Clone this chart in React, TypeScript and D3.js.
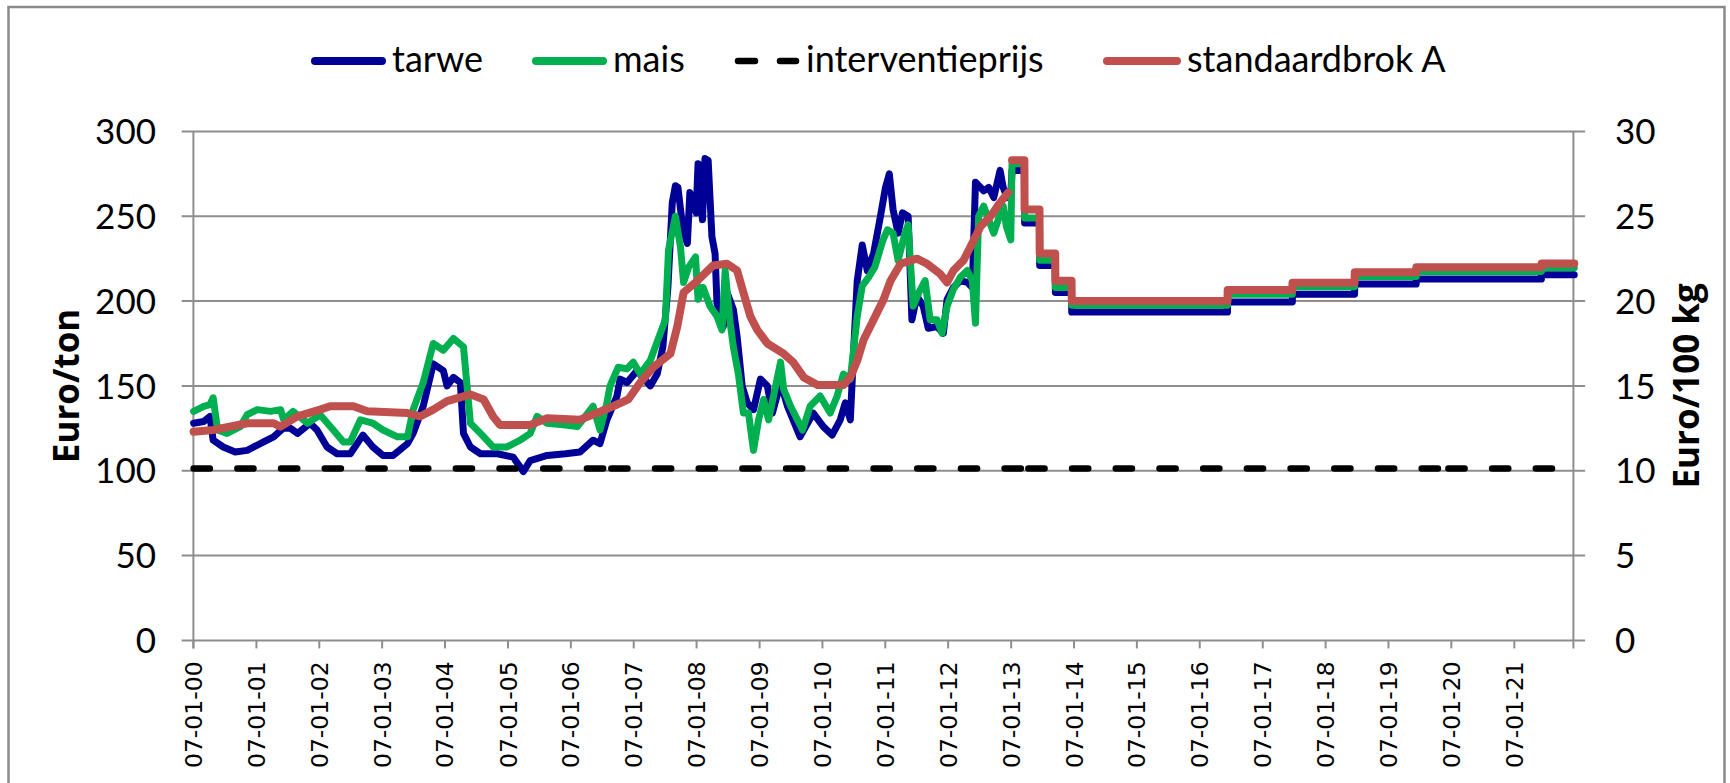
import { useEffect, useRef } from 'react';
import * as d3 from 'd3';

// [decimal year, euro/ton]
const tarwe: [number, number][] = [
  [2000.02, 128], [2000.18, 129], [2000.28, 132], [2000.33, 118], [2000.49, 114], [2000.68, 111],
  [2000.87, 112], [2001.13, 117], [2001.29, 120], [2001.44, 125], [2001.56, 125], [2001.67, 122],
  [2001.87, 128], [2001.98, 124], [2002.14, 114], [2002.3, 110], [2002.51, 110], [2002.71, 121],
  [2002.87, 114], [2003.03, 109], [2003.19, 109], [2003.42, 116], [2003.51, 122], [2003.67, 138],
  [2003.83, 163], [2003.99, 159], [2004.05, 150], [2004.15, 155], [2004.26, 152], [2004.31, 122],
  [2004.42, 114], [2004.58, 110], [2004.85, 110], [2005.1, 108], [2005.26, 99.5], [2005.37, 106],
  [2005.64, 109], [2005.93, 110], [2006.16, 111], [2006.37, 118], [2006.48, 116], [2006.59, 130],
  [2006.75, 144], [2006.8, 154], [2006.91, 152], [2007.07, 159], [2007.28, 150], [2007.39, 157],
  [2007.48, 173], [2007.56, 208], [2007.63, 258], [2007.68, 268], [2007.72, 267], [2007.8, 242],
  [2007.87, 234], [2007.91, 264], [2008.01, 252], [2008.04, 281], [2008.11, 248], [2008.15, 284],
  [2008.2, 283], [2008.26, 238], [2008.31, 228], [2008.34, 199], [2008.44, 185], [2008.5, 205],
  [2008.6, 195], [2008.66, 179], [2008.74, 150], [2008.82, 140], [2008.92, 136], [2009.03, 154],
  [2009.14, 150], [2009.22, 134], [2009.35, 152], [2009.46, 138], [2009.55, 130], [2009.66, 120],
  [2009.87, 134], [2010.03, 126], [2010.17, 121], [2010.3, 130], [2010.38, 140], [2010.46, 130],
  [2010.51, 169], [2010.57, 212], [2010.65, 233], [2010.73, 218], [2010.83, 228], [2010.94, 250],
  [2011.02, 267], [2011.08, 275], [2011.14, 254], [2011.22, 240], [2011.29, 252], [2011.38, 250],
  [2011.44, 189], [2011.52, 203], [2011.62, 197], [2011.7, 184], [2011.84, 185], [2011.94, 181],
  [2012.0, 201], [2012.1, 208], [2012.21, 212], [2012.32, 211], [2012.4, 208], [2012.45, 270],
  [2012.58, 265], [2012.66, 267], [2012.74, 261], [2012.84, 277], [2012.89, 267], [2012.95, 261],
  [2013.01, 262],
];

const mais: [number, number][] = [
  [2000.02, 135], [2000.18, 138], [2000.28, 139], [2000.33, 143], [2000.4, 124], [2000.55, 122],
  [2000.76, 126], [2000.87, 133], [2001.03, 136], [2001.24, 135], [2001.4, 136], [2001.45, 130],
  [2001.6, 135], [2001.83, 128], [2002.03, 133], [2002.24, 124], [2002.4, 117], [2002.51, 117],
  [2002.67, 130], [2002.87, 128], [2003.03, 124], [2003.26, 120], [2003.42, 120], [2003.51, 136],
  [2003.67, 152], [2003.83, 175], [2003.99, 171], [2004.15, 178], [2004.31, 173], [2004.42, 128],
  [2004.58, 122], [2004.78, 114], [2005.0, 114], [2005.21, 118], [2005.37, 122], [2005.48, 132],
  [2005.64, 128], [2005.93, 127], [2006.12, 126], [2006.37, 138], [2006.48, 124], [2006.59, 140],
  [2006.64, 150], [2006.77, 161], [2006.91, 160], [2007.01, 164], [2007.12, 157], [2007.28, 165],
  [2007.44, 181], [2007.52, 189], [2007.57, 230], [2007.68, 250], [2007.76, 232], [2007.81, 211],
  [2007.89, 220], [2008.0, 226], [2008.04, 201], [2008.12, 208], [2008.23, 197], [2008.34, 191],
  [2008.42, 183], [2008.47, 218], [2008.55, 187], [2008.6, 173], [2008.68, 157], [2008.76, 134],
  [2008.84, 134], [2008.92, 112], [2009.0, 130], [2009.08, 142], [2009.16, 130], [2009.35, 164],
  [2009.4, 148], [2009.51, 138], [2009.62, 130], [2009.7, 124], [2009.82, 138], [2009.98, 144],
  [2010.14, 134], [2010.25, 144], [2010.35, 157], [2010.46, 154], [2010.57, 191], [2010.65, 209],
  [2010.75, 214], [2010.85, 220], [2010.98, 236], [2011.05, 242], [2011.14, 240], [2011.22, 224],
  [2011.33, 240], [2011.38, 245], [2011.46, 197], [2011.55, 205], [2011.65, 212], [2011.73, 189],
  [2011.84, 189], [2011.92, 181], [2012.0, 197], [2012.1, 207], [2012.21, 214], [2012.32, 218],
  [2012.4, 212], [2012.45, 187], [2012.5, 250], [2012.58, 256], [2012.66, 248], [2012.74, 240],
  [2012.83, 250], [2012.89, 256], [2012.94, 244], [2013.01, 236],
];

// euro/100 kg
const standaardbrok: [number, number][] = [
  [2000.02, 12.3], [2000.33, 12.4], [2000.87, 12.8], [2001.29, 12.8], [2001.4, 12.6], [2001.67, 13.2],
  [2002.03, 13.6], [2002.19, 13.8], [2002.56, 13.8], [2002.78, 13.5], [2003.42, 13.4], [2003.62, 13.2],
  [2003.83, 13.6], [2004.05, 14.1], [2004.42, 14.5], [2004.63, 14.2], [2004.78, 13.2], [2004.89, 12.7],
  [2005.37, 12.7], [2005.64, 13.1], [2006.16, 13.0], [2006.43, 13.4], [2006.69, 13.8], [2006.93, 14.2],
  [2007.12, 15.2], [2007.33, 16.1], [2007.6, 16.9], [2007.71, 18.5], [2007.81, 20.5], [2008.03, 21.2],
  [2008.28, 22.1], [2008.5, 22.2], [2008.66, 21.8], [2008.76, 20.5], [2008.87, 19.1], [2008.98, 18.3],
  [2009.14, 17.5], [2009.4, 16.9], [2009.55, 16.4], [2009.72, 15.5], [2009.94, 15.05], [2010.35, 15.05],
  [2010.46, 15.5], [2010.57, 16.5], [2010.67, 17.7], [2010.83, 18.9], [2010.99, 20.1], [2011.1, 21.2],
  [2011.26, 22.2], [2011.52, 22.5], [2011.68, 22.2], [2011.89, 21.6], [2012.0, 21.1], [2012.1, 21.8],
  [2012.26, 22.4], [2012.37, 23.2], [2012.53, 24.4], [2012.69, 25.0], [2012.84, 25.8], [2012.97, 26.4],
];

// stepped levels from 2013 on
const stepYears = [2013.03, 2013.23, 2013.47, 2013.72, 2013.98, 2016.46, 2017.49, 2018.48, 2019.46, 2021.45];
const stepTarwe = [277, 246, 221, 205, 193.5, 199.5, 204, 210, 213, 215.5];
const stepMais = [281, 249, 224, 208, 197.5, 204, 208.5, 214.5, 217.5, 219.7];
const stepBrok = [28.3, 25.4, 22.8, 21.2, 20.0, 20.65, 21.08, 21.7, 22.0, 22.22];
const lastYear = 2021.97;

const interventieprijs = 101.31;
const interventieBreaks = [2000.02, 2006.66, 2013.29, 2019.97, 2021.7];

const tickYears = d3.range(2000, 2022);
const leftTicks = [0, 50, 100, 150, 200, 250, 300];
const rightTicks = [0, 5, 10, 15, 20, 25, 30];

const legendItems = [
  { label: 'tarwe', color: '#000096', dash: false },
  { label: 'mais', color: '#00b050', dash: false },
  { label: 'interventieprijs', color: '#000000', dash: true },
  { label: 'standaardbrok A', color: '#c0504d', dash: false },
];

const toDate = (y: number) => {
  const yr = Math.floor(y);
  const a = new Date(yr, 0, 1).getTime();
  const b = new Date(yr + 1, 0, 1).getTime();
  return new Date(a + (y - yr) * (b - a));
};

const stepPoints = (vals: number[]): [number, number][] =>
  stepYears.flatMap((y, i) => {
    const next = i < stepYears.length - 1 ? stepYears[i + 1] - 0.003 : lastYear;
    return [
      [y, vals[i]],
      [next, vals[i]],
    ] as [number, number][];
  });

const GRID = '#8e8e8e';
const FONT = 'Lato, "Open Sans", sans-serif';
const TITLE_FONT = '"Open Sans", Lato, sans-serif';

export default function App() {
  const svgRef = useRef<SVGSVGElement>(null);

  useEffect(() => {
    if (!svgRef.current) return;
    const width = 1730;
    const height = 783;
    const svg = d3.select(svgRef.current).attr('width', width).attr('height', height);
    svg.selectAll('*').remove();

    const left = 193.4;
    const right = 1573.4;
    const top = 131.4;
    const bottom = 640.4;

    const x = d3
      .scaleTime()
      .domain([new Date(2000, 0, 7), new Date(2021, 11, 16)])
      .range([left, right]);
    const yL = d3.scaleLinear().domain([0, 300]).range([bottom, top]);
    const yR = d3.scaleLinear().domain([0, 30]).range([bottom, top]);

    svg.append('rect').attr('width', width).attr('height', height).attr('fill', '#fff');
    svg
      .append('rect')
      .attr('x', 8.5)
      .attr('y', 7)
      .attr('width', 1716)
      .attr('height', 800)
      .attr('fill', 'none')
      .attr('stroke', '#8a8a8a')
      .attr('stroke-width', 2.5);

    // gridlines + outward ticks on both sides
    const tickLen = 11.7;
    svg
      .append('g')
      .selectAll('line')
      .data(leftTicks)
      .join('line')
      .attr('x1', left - tickLen)
      .attr('x2', right + tickLen)
      .attr('y1', (d) => yL(d))
      .attr('y2', (d) => yL(d))
      .attr('stroke', GRID)
      .attr('stroke-width', 2);

    // vertical axes
    [left, right].forEach((ax) => {
      svg
        .append('line')
        .attr('x1', ax)
        .attr('x2', ax)
        .attr('y1', top)
        .attr('y2', bottom + 8)
        .attr('stroke', GRID)
        .attr('stroke-width', 2);
    });

    // x ticks
    const tickDates = tickYears.map((y) => new Date(y, 0, 7));
    svg
      .append('g')
      .selectAll('line')
      .data(tickDates)
      .join('line')
      .attr('x1', (d) => x(d))
      .attr('x2', (d) => x(d))
      .attr('y1', bottom)
      .attr('y2', bottom + 8)
      .attr('stroke', GRID)
      .attr('stroke-width', 2);

    const fmt = d3.timeFormat('%d-%m-%y');
    svg
      .append('g')
      .selectAll('text')
      .data(tickDates)
      .join('text')
      .attr('transform', (d) => `translate(${x(d) + 8.5},${bottom + 21}) rotate(-90)`)
      .attr('text-anchor', 'end')
      .attr('font-family', '"DejaVu Sans", sans-serif')
      .attr('font-size', 23.5)
      .attr('fill', '#000')
      .text((d) => fmt(d));

    // y tick labels
    svg
      .append('g')
      .selectAll('text')
      .data(leftTicks)
      .join('text')
      .attr('x', 156)
      .attr('y', (d) => yL(d))
      .attr('dy', '0.36em')
      .attr('text-anchor', 'end')
      .attr('font-family', FONT)
      .attr('font-size', 35)
      .text((d) => d);
    svg
      .append('g')
      .selectAll('text')
      .data(rightTicks)
      .join('text')
      .attr('x', 1615)
      .attr('y', (d) => yR(d))
      .attr('dy', '0.36em')
      .attr('font-family', FONT)
      .attr('font-size', 35)
      .text((d) => d);

    svg
      .append('text')
      .attr('transform', `translate(79,${(top + bottom) / 2}) rotate(-90)`)
      .attr('text-anchor', 'middle')
      .attr('font-family', TITLE_FONT)
      .attr('font-weight', 'bold')
      .attr('font-size', 35)
      .text('Euro/ton');
    svg
      .append('text')
      .attr('transform', `translate(1699,${(top + bottom) / 2}) rotate(-90)`)
      .attr('text-anchor', 'middle')
      .attr('font-family', TITLE_FONT)
      .attr('font-weight', 'bold')
      .attr('font-size', 35)
      .text('Euro/100 kg');

    const lineL = d3
      .line<[number, number]>()
      .x((d) => x(toDate(d[0])))
      .y((d) => yL(d[1]));
    const lineR = d3
      .line<[number, number]>()
      .x((d) => x(toDate(d[0])))
      .y((d) => yR(d[1]));

    const draw = (d: string | null, color: string, w: number, dash?: string) => {
      svg
        .append('path')
        .attr('d', d)
        .attr('fill', 'none')
        .attr('stroke', color)
        .attr('stroke-width', w)
        .attr('stroke-linejoin', 'round')
        .attr('stroke-linecap', 'round')
        .attr('stroke-dasharray', dash ?? null);
    };

    draw(lineL(tarwe.concat(stepPoints(stepTarwe))), '#000096', 7);
    draw(lineL(mais.concat(stepPoints(stepMais))), '#00b050', 7);
    d3.pairs(interventieBreaks).forEach(([a, b]) => {
      draw(
        lineL([
          [a, interventieprijs],
          [b, interventieprijs],
        ]),
        '#000',
        6.5,
        '16.2 27.5'
      );
    });
    draw(lineR(standaardbrok), '#c0504d', 8);
    draw(lineR(stepPoints(stepBrok)), '#c0504d', 8);

    // legend
    const legendX = [311, 532, 734, 1103];
    const legendLen = [75, 75, 66, 78];
    const lg = svg.append('g');
    legendItems.forEach((item, i) => {
      const x0 = legendX[i];
      lg.append('line')
        .attr('x1', x0 + 4)
        .attr('x2', x0 + legendLen[i] - 4)
        .attr('y1', 61)
        .attr('y2', 61)
        .attr('stroke', item.color)
        .attr('stroke-width', item.dash ? 6.5 : 8)
        .attr('stroke-linecap', 'round')
        .attr('stroke-dasharray', item.dash ? '17 25' : null);
      lg.append('text')
        .attr('x', x0 + legendLen[i] + 6)
        .attr('y', 72)
        .attr('font-family', FONT)
        .attr('font-size', 36)
        .text(item.label);
    });
  }, []);

  return (
    <div style={{ position: 'absolute', left: 0, top: 0 }}>
      <svg ref={svgRef} style={{ display: 'block' }} />
    </div>
  );
}
